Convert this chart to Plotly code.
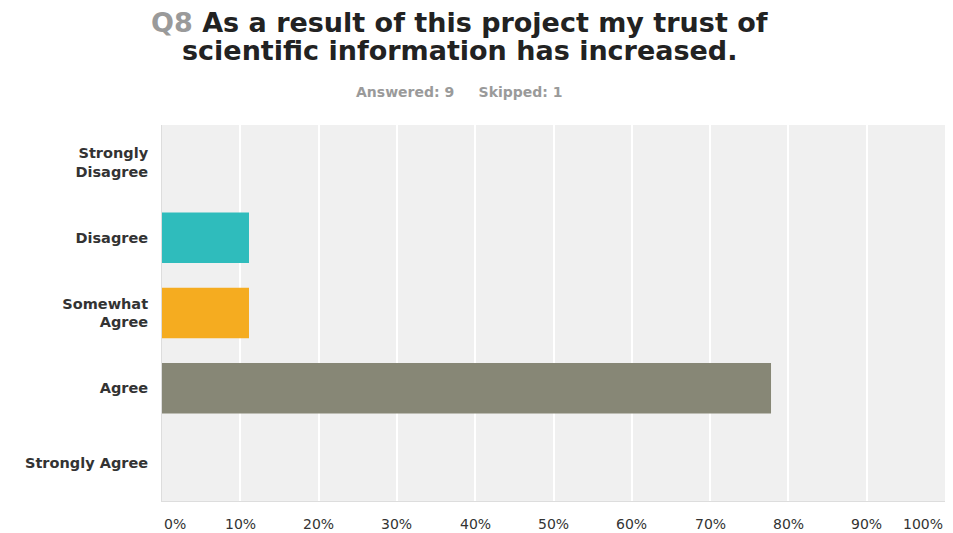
import plotly.graph_objects as go

categories = ["Strongly<br>Disagree", "Disagree", "Somewhat<br>Agree", "Agree", "Strongly Agree"]
percent_values = [0.0, 11.11, 11.11, 77.78, 0.0]
bar_colors = ["#2fbcbc", "#2fbcbc", "#f5ac20", "#878776", "#878776"]
x_tick_values = [0, 10, 20, 30, 40, 50, 60, 70, 80, 90, 100]
x_tick_labels = ["0%", "10%", "20%", "30%", "40%", "50%", "60%", "70%", "80%", "90%", "100%"]
title_q = "Q8"
title_line1 = "As a result of this project my trust of"
title_line2 = "scientific information has increased."
subtitle = "Answered: 9&nbsp;&nbsp;&nbsp;&nbsp;&nbsp;Skipped: 1"

FONT = "DejaVu Sans, Verdana, sans-serif"
CX = 0.380

fig = go.Figure()
fig.add_trace(go.Bar(
    x=percent_values,
    y=categories,
    orientation="h",
    marker=dict(color=bar_colors, line=dict(width=0)),
    showlegend=False,
    hovertemplate="%{y}: %{x:.2f}%<extra></extra>",
))

title_font = dict(family=FONT, size=27, color="#222222", weight="bold")
annotations = [
    dict(text=f"<span style='color:#9a9a9a'>{title_q}</span> {title_line1}",
         xref="paper", yref="paper", x=CX, y=1.0, yshift=103, xanchor="center", yanchor="middle",
         showarrow=False, font=title_font),
    dict(text=title_line2,
         xref="paper", yref="paper", x=CX, y=1.0, yshift=75, xanchor="center", yanchor="middle",
         showarrow=False, font=title_font),
    dict(text=subtitle, xref="paper", yref="paper", x=CX, y=1.0, yshift=33,
         xanchor="center", yanchor="middle", showarrow=False,
         font=dict(family=FONT, size=14, color="#9a9a9a", weight="bold")),
]
for v, lab in zip(x_tick_values, x_tick_labels):
    anchor = "center"
    if v == x_tick_values[0]:
        anchor = "left"
    elif v == x_tick_values[-1]:
        anchor = "right"
    annotations.append(dict(text=lab, x=v, xref="x", y=0, yref="paper", yshift=-23,
                            xanchor=anchor, yanchor="middle", showarrow=False,
                            font=dict(family=FONT, size=14, color="#333333")))

fig.update_layout(
    width=953, height=533,
    margin=dict(l=162, r=8, t=125, b=32),
    paper_bgcolor="white",
    plot_bgcolor="#f0f0f0",
    bargap=0.33,
    font=dict(family=FONT),
    annotations=annotations,
    xaxis=dict(range=[0, 100], tickvals=x_tick_values, showticklabels=False,
               showgrid=True, gridcolor="white", gridwidth=2, zeroline=False,
               showline=True, linecolor="#dddddd", linewidth=1, mirror=False, fixedrange=True),
    yaxis=dict(categoryorder="array", categoryarray=categories, autorange="reversed",
               showgrid=False, zeroline=False, showline=True, linecolor="#dddddd", linewidth=1,
               ticks="", ticklabelstandoff=10,
               tickfont=dict(family=FONT, size=14.5, color="#333333", weight="bold")),
)

fig.write_html("out.html")
